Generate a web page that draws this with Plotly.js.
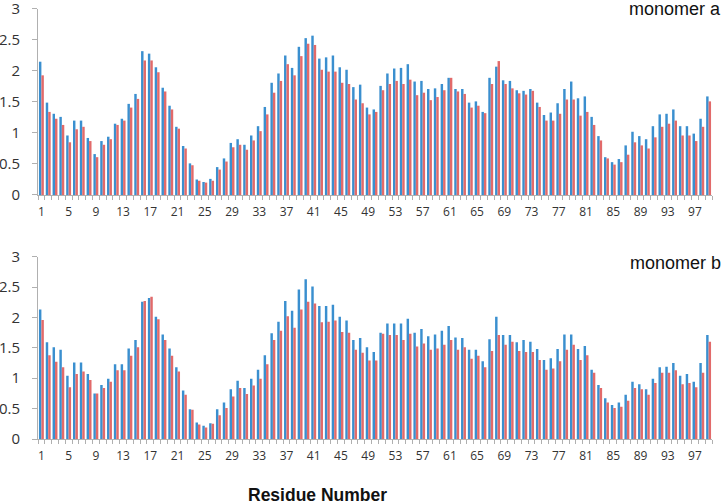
<!DOCTYPE html>
<html><head><meta charset="utf-8">
<script src="https://cdn.plot.ly/plotly-3.0.1.min.js"></script>
<style>html,body{margin:0;padding:0;background:#fff}#chart{width:724px;height:504px}</style>
</head><body><div id="chart"></div>
<script>
const residues = Array.from({length: 99}, (_, i) => i + 1);
const tickLabels = [1,5,9,13,17,21,25,29,33,37,41,45,49,53,57,61,65,69,73,77,81,85,89,93,97];
const yTicks = [0, 0.5, 1, 1.5, 2, 2.5, 3];

const aBlue = [2.15,1.49,1.31,1.26,0.96,1.20,1.20,0.92,0.66,0.87,0.94,1.15,1.23,1.47,1.63,2.32,2.28,2.06,1.73,1.44,
  1.10,0.79,0.51,0.25,0.21,0.26,0.45,0.59,0.84,0.90,0.81,0.96,1.11,1.42,1.81,1.96,2.25,2.05,2.39,2.53,
  2.57,2.20,2.22,2.25,2.06,2.02,1.74,1.78,1.41,1.38,1.76,1.96,2.04,2.05,2.11,1.83,1.84,1.71,1.72,1.79,
  1.89,1.71,1.71,1.49,1.51,1.34,1.89,2.07,1.85,1.84,1.69,1.68,1.71,1.49,1.29,1.33,1.48,1.71,1.83,1.56,
  1.59,1.26,0.95,0.61,0.53,0.58,0.80,1.02,0.95,0.90,1.11,1.30,1.31,1.38,1.11,1.11,0.99,1.23,1.59];
const aRed = [1.93,1.34,1.23,1.13,0.85,1.06,1.10,0.87,0.61,0.81,0.90,1.13,1.20,1.41,1.55,2.17,2.17,1.98,1.67,1.38,
  1.07,0.75,0.48,0.23,0.20,0.23,0.41,0.54,0.77,0.81,0.73,0.88,1.03,1.30,1.65,1.84,2.11,1.93,2.24,2.44,
  2.42,2.02,1.99,1.99,1.81,1.79,1.54,1.48,1.30,1.34,1.69,1.79,1.84,1.79,1.86,1.61,1.65,1.53,1.58,1.69,
  1.89,1.67,1.63,1.41,1.44,1.32,1.79,2.16,1.79,1.72,1.64,1.62,1.68,1.42,1.20,1.20,1.31,1.54,1.54,1.28,
  1.34,1.13,0.88,0.59,0.49,0.53,0.65,0.85,0.80,0.75,0.93,1.10,1.15,1.20,0.96,0.96,0.87,1.10,1.51];
const bBlue = [2.13,1.59,1.51,1.47,1.04,1.26,1.26,1.07,0.75,0.89,0.99,1.23,1.23,1.49,1.63,2.26,2.32,2.01,1.72,1.49,
  1.18,0.80,0.49,0.27,0.22,0.26,0.49,0.60,0.82,0.96,0.84,0.99,1.14,1.38,1.74,1.93,2.27,2.11,2.46,2.63,
  2.51,2.19,2.19,2.21,2.01,1.95,1.63,1.66,1.51,1.43,1.75,1.90,1.90,1.90,1.98,1.75,1.81,1.69,1.72,1.78,
  1.86,1.67,1.66,1.47,1.47,1.28,1.64,2.01,1.71,1.71,1.59,1.63,1.60,1.48,1.30,1.33,1.48,1.72,1.72,1.48,
  1.53,1.14,0.89,0.67,0.56,0.60,0.73,0.94,0.90,0.82,0.99,1.18,1.19,1.25,1.04,1.07,0.94,1.25,1.71];
const bRed = [1.96,1.38,1.27,1.18,0.85,1.07,1.11,0.97,0.75,0.84,0.94,1.13,1.13,1.37,1.51,2.27,2.34,1.97,1.63,1.37,
  1.11,0.73,0.48,0.24,0.19,0.25,0.39,0.51,0.70,0.84,0.74,0.88,0.99,1.23,1.63,1.78,2.02,1.83,2.13,2.26,
  2.23,1.92,1.93,1.95,1.76,1.75,1.47,1.42,1.29,1.29,1.73,1.71,1.71,1.63,1.73,1.52,1.57,1.47,1.49,1.55,
  1.63,1.47,1.51,1.32,1.37,1.18,1.45,1.71,1.55,1.60,1.45,1.43,1.43,1.30,1.14,1.16,1.28,1.47,1.55,1.30,
  1.38,1.09,0.84,0.60,0.51,0.53,0.63,0.84,0.82,0.73,0.92,1.09,1.09,1.13,0.90,0.92,0.85,1.09,1.60];

const BLUE = '#3a8fcf', RED = '#e26a6a';
function bar(y, color, xa, ya) {
  return {type: 'bar', x: residues, y: y, xaxis: xa, yaxis: ya,
    marker: {color: color, line: {width: 0}}, showlegend: false, hoverinfo: 'skip'};
}
const data = [
  bar(aBlue, BLUE, 'x', 'y'), bar(aRed, RED, 'x', 'y'),
  bar(bBlue, BLUE, 'x2', 'y2'), bar(bRed, RED, 'x2', 'y2')
];
const boundaries = residues.map(r => r - 0.5).concat([residues.length + 0.5]);
function xax(anchor) {
  return {anchor: anchor, range: [0.5, 99.5], tickvals: tickLabels, ticktext: tickLabels.map(String),
    ticks: '', showline: true, linecolor: '#b0b0b0', linewidth: 1, showgrid: false, zeroline: false,
    ticklabelstandoff: 6,
    tickfont: {family: 'Open Sans, sans-serif', size: 12, color: '#333'},
    minor: {tickvals: boundaries, ticks: 'outside', ticklen: 4, tickcolor: '#b0b0b0', showgrid: false}};
}
function yax(anchor, dom) {
  return {anchor: anchor, domain: dom, range: [0, 3], tickvals: yTicks,
    ticktext: yTicks.map(String), ticks: 'outside', ticklen: 5, tickcolor: '#b0b0b0',
    showline: true, linecolor: '#b0b0b0', ticklabelstandoff: 9, ticklabeloverflow: 'allow',
    showgrid: false, zeroline: false, tickfont: {family: 'Open Sans, sans-serif', size: 15, color: '#333'}};
}
const layout = {
  width: 724, height: 504, margin: {l: 38, r: 12, t: 0, b: 65},
  paper_bgcolor: '#fff', plot_bgcolor: '#fff',
  barmode: 'group', bargap: 0.28, bargroupgap: 0,
  xaxis: xax('y'), yaxis: yax('x', [0.5558, 0.9795]),
  xaxis2: xax('y2'), yaxis2: yax('x2', [0, 0.4153]),
  annotations: [
    {text: 'monomer a', xref: 'paper', yref: 'paper', x: 1.0163, y: 0.9795, xanchor: 'right', yanchor: 'middle',
      showarrow: false, font: {family: 'Liberation Sans, Arial, sans-serif', size: 18, color: '#111'}},
    {text: 'monomer b', xref: 'paper', yref: 'paper', x: 1.0163, y: 0.401, xanchor: 'right', yanchor: 'middle',
      showarrow: false, font: {family: 'Liberation Sans, Arial, sans-serif', size: 18, color: '#111'}},
    {text: '<b>Residue Number</b>', xref: 'paper', yref: 'paper', x: 0.4154, y: -0.127, xanchor: 'center', yanchor: 'middle',
      showarrow: false, font: {family: 'Liberation Sans, Arial, sans-serif', size: 17.5, color: '#111'}}
  ]
};
Plotly.newPlot('chart', data, layout, {displayModeBar: false, staticPlot: true});
</script></body></html>
